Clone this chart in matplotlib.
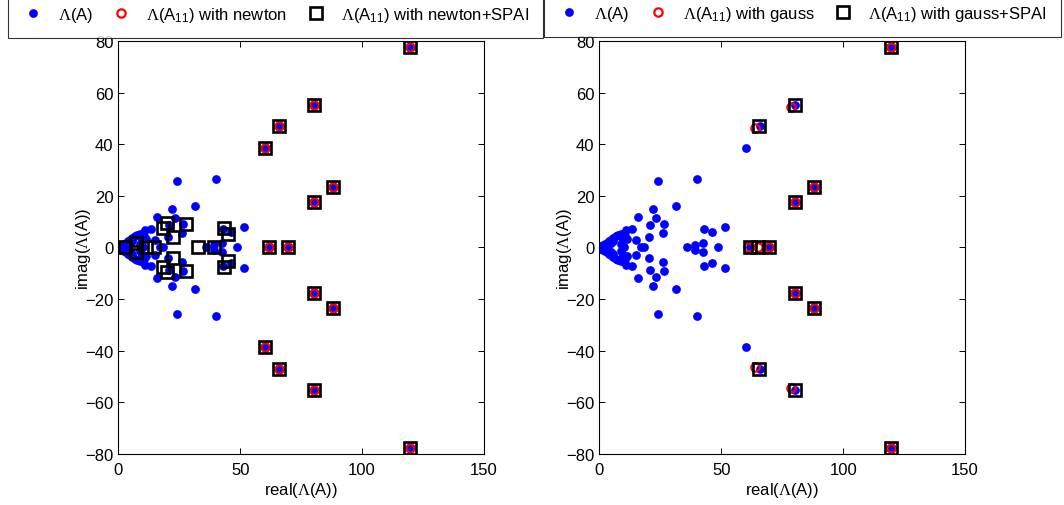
import matplotlib
matplotlib.use("Agg")
import matplotlib.pyplot as plt
from matplotlib.lines import Line2D

plt.rcParams["font.family"] = ["Liberation Sans", "DejaVu Sans"]
plt.rcParams["mathtext.fontset"] = "custom"
plt.rcParams["mathtext.rm"] = "Liberation Serif"
plt.rcParams["mathtext.sf"] = "Liberation Sans"
plt.rcParams["mathtext.it"] = "Liberation Serif:italic"

# %%
# Data: eigenvalues
# exact spectrum Lambda(A)
eig_re = [
    119.7, 119.7, 88.1, 88.1, 80.3, 80.3, 80.3, 80.3, 66.0, 66.0, 60.0, 60.0, 61.8, 69.6,
    24.2, 24.2, 40.0, 40.0, 31.5, 31.5, 22.0, 22.0, 15.7, 15.7, 23.4, 23.4,
    20.8, 20.8, 26.7, 26.7, 26.0, 26.0, 20.5, 20.5, 14.9, 14.9, 13.4, 13.4,
    11.1, 11.1, 17.0, 18.5, 42.8, 42.8, 46.1, 46.1, 51.7, 51.7, 42.7, 42.7,
    35.8, 39.3, 39.3, 48.7,
    0.2, 0.8, 0.8, 1.5, 1.5, 2.3, 2.3, 3.1, 3.1, 3.9, 3.9, 4.8, 4.8, 5.7, 5.7,
    6.7, 6.7, 7.8, 7.8, 8.9, 8.9, 2.0, 3.5, 3.5, 4.6, 4.6, 5.6, 5.6,
    8.9, 8.9, 9.6, 9.6, 10.2, 10.4, 10.4, 11.2, 11.2,
]
eig_im = [
    77.7, -77.7, 23.4, -23.4, 17.5, -17.5, 55.3, -55.3, 47.2, -47.2, 38.5, -38.5, 0.0, 0.0,
    25.8, -25.8, 26.6, -26.6, 16.1, -16.1, 14.9, -14.9, 11.8, -11.8, 11.3, -11.3,
    8.6, -8.6, 9.0, -9.0, 5.6, -5.6, 4.2, -4.2, 3.0, -3.0, 7.1, -7.1,
    6.8, -6.8, 0.0, 0.0, 7.1, -7.1, 6.1, -6.1, 8.0, -8.0, 1.7, -1.7,
    0.0, 1.0, -1.0, 0.0,
    0.0, 0.4, -0.4, 0.9, -0.9, 1.4, -1.4, 1.9, -1.9, 2.5, -2.5, 3.1, -3.1, 3.7, -3.7,
    4.3, -4.3, 4.9, -4.9, 5.4, -5.4, 0.0, 0.8, -0.8, 1.6, -1.6, 2.4, -2.4,
    1.3, -1.3, 3.0, -3.0, 0.0, 4.4, -4.4, 3.2, -3.2,
]

# Lambda(A11) with newton
newton_re = [119.7, 119.7, 88.1, 88.1, 80.3, 80.3, 80.3, 80.3, 66.0, 66.0, 60.0, 60.0, 61.8, 69.6]
newton_im = [77.7, -77.7, 23.4, -23.4, 17.5, -17.5, 55.3, -55.3, 47.2, -47.2, 38.5, -38.5, 0.0, 0.0]

# Lambda(A11) with newton+SPAI
nspai_re = [
    119.7, 119.7, 88.1, 88.1, 80.3, 80.3, 80.3, 80.3, 66.0, 66.0, 60.0, 60.0, 61.8, 69.6,
    2.7, 7.3, 7.3, 11.2, 14.8, 19.8, 19.8, 18.2, 18.2, 22.5, 22.5, 27.7, 27.7,
    32.6, 39.4, 43.4, 43.4, 45.1, 45.1,
]
nspai_im = [
    77.7, -77.7, 23.4, -23.4, 17.5, -17.5, 55.3, -55.3, 47.2, -47.2, 38.5, -38.5, 0.0, 0.0,
    0.0, 1.6, -1.6, 0.0, 0.0, 9.6, -9.6, 7.5, -7.5, 4.2, -4.2, 9.0, -9.0,
    0.0, 0.0, 7.4, -7.4, 5.1, -5.1,
]

# Lambda(A11) with gauss
gauss_re = [119.5, 119.5, 88.1, 88.1, 80.3, 80.3, 78.6, 78.6, 63.9, 63.9, 61.1, 65.2, 69.7]
gauss_im = [77.6, -77.6, 23.4, -23.4, 17.5, -17.5, 54.7, -54.7, 46.2, -46.2, 0.0, 0.0, 0.0]

# Lambda(A11) with gauss+SPAI
gspai_re = [119.7, 119.7, 88.1, 88.1, 80.3, 80.3, 80.2, 80.2, 65.5, 65.5, 61.6, 65.2, 69.7]
gspai_im = [77.7, -77.7, 23.4, -23.4, 17.5, -17.5, 55.4, -55.4, 47.3, -47.3, 0.0, 0.0, 0.0]

# %%
# Marker styles
dot_kw = dict(ls="none", marker="o", ms=6.3, mfc="blue", mec="blue", mew=0)
circ_kw = dict(ls="none", marker="o", ms=6, mfc="none", mec="red", mew=1.6)
box_kw = dict(ls="none", marker="s", ms=8, mfc="none", mec="black", mew=1.9)

lab_eig = r"$\Lambda$(A)"


def draw(ax, red_re, red_im, box_re, box_im):
    ax.plot(eig_re, eig_im, **dot_kw)
    ax.plot(red_re, red_im, **circ_kw)
    ax.plot(box_re, box_im, **box_kw)
    ax.set_xlim(0, 150)
    ax.set_ylim(-80, 80)
    ax.set_xticks([0, 50, 100, 150])
    ax.set_yticks(range(-80, 81, 20))
    ax.tick_params(direction="in", top=True, right=True, length=4, width=0.7,
                   labelsize=12)
    ax.tick_params(axis="x", pad=6)
    for s in ax.spines.values():
        s.set_linewidth(0.8)
    ax.set_xlabel(r"real($\Lambda$(A))", fontsize=12, labelpad=2)
    ax.set_ylabel(r"imag($\Lambda$(A))", fontsize=12, labelpad=-6)


fig = plt.figure(figsize=(10.64, 5.06), dpi=100)
ax1 = fig.add_axes([0.1112, 0.1014, 0.3437, 0.815])
ax2 = fig.add_axes([0.5633, 0.1014, 0.3437, 0.815])

draw(ax1, newton_re, newton_im, nspai_re, nspai_im)
draw(ax2, gauss_re, gauss_im, gspai_re, gspai_im)


def legend(x0, y0, w, method):
    handles = [
        Line2D([], [], **dot_kw),
        Line2D([], [], **circ_kw),
        Line2D([], [], **box_kw),
    ]
    labels = [
        lab_eig,
        r"$\Lambda$(A$_{\mathsf{11}}$) with " + method,
        r"$\Lambda$(A$_{\mathsf{11}}$) with " + method + "+SPAI",
    ]
    leg = fig.legend(handles, labels, loc="lower left", bbox_to_anchor=(x0, y0, w, 0.1),
                     mode="expand", ncol=3, fontsize=12, frameon=True, fancybox=False,
                     edgecolor="black", borderpad=0.85, handlelength=1.3,
                     handletextpad=0.85, columnspacing=1.0, borderaxespad=0)
    leg.get_frame().set_linewidth(0.8)
    leg.set_zorder(5)


legend(0.0075, 0.923, 0.5028, "newton")
legend(0.5113, 0.925, 0.4859, "gauss")

fig.savefig("out.png", dpi=100)
